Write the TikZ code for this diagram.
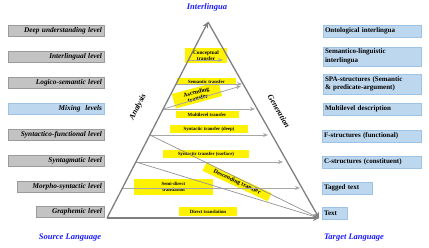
\documentclass[tikz,border=0pt]{standalone}
\usepackage{fontspec}
\setmainfont{Liberation Serif}
\usetikzlibrary{arrows.meta}
\definecolor{lgray}{HTML}{C3C3C3}
\definecolor{lgrayd}{HTML}{9A9A9A}
\definecolor{lblue}{HTML}{BDD7EE}
\definecolor{lblued}{HTML}{9DC3E6}
\definecolor{ttl}{HTML}{1A1AFF}
\definecolor{edgec}{HTML}{7F7F7F}
\definecolor{arrc}{HTML}{A6A6A6}
\begin{document}
\begin{tikzpicture}[x=1pt,y=-1pt,
  lbox/.style={draw=lgrayd, fill=lgray, line width=0.6pt, minimum height=11pt, inner xsep=2pt, inner ysep=0pt, align=right,
    font=\fontsize{7.3}{8}\selectfont\bfseries\itshape},
  rbox/.style={draw=lblued, fill=lblue, line width=0.6pt, inner xsep=2pt, inner ysep=1pt, align=left,
    font=\fontsize{7}{8.5}\selectfont\bfseries},
  ybox/.style={fill=yellow, inner sep=0pt, align=center, font=\fontsize{4.8}{5.6}\selectfont\bfseries},
  ybig/.style={font=\fontsize{6}{6.4}\selectfont\bfseries},
  ttlbl/.style={text=ttl, font=\fontsize{8.5}{10}\selectfont\bfseries\itshape},
  sidelbl/.style={font=\fontsize{8}{9}\selectfont\bfseries\itshape},
  edge/.style={draw=edgec, line width=1.3pt, -{Stealth[length=6pt,width=6pt]}},
  harr/.style={draw=arrc, line width=0.8pt, -{Stealth[length=5pt,width=4pt]}},
  dline/.style={draw=edgec!85, line width=0.7pt}
]
\useasboundingbox (0,0) rectangle (429,247);

% title labels
\node[ttlbl] (tI) at (207,7) {Interlingua};
\node[ttlbl] (tS) at (70,238) {Source Language};
\node[ttlbl] (tT) at (354,238) {Target Language};

% left boxes
\node[lbox, text width=92pt] (l1) at (56,31) {Deep understanding level};
\node[lbox, text width=92pt] (l2) at (56,57) {Interlingual level};
\node[lbox, text width=92pt] (l3) at (56,83) {Logico-semantic level};
\node[lbox, text width=92pt, fill=lblue, draw=lblued] (l4) at (56,109) {Mixing~~levels};
\node[lbox, text width=92pt] (l5) at (56,135) {Syntactico-functional level};
\node[lbox, text width=92pt] (l6) at (56,161) {Syntagmatic level};
\node[lbox, text width=83pt] (l7) at (60.5,187) {Morpho-syntactic level};
\node[lbox, text width=64pt] (l8) at (70,212) {Graphemic level};

% right boxes
\node[rbox, text width=94pt, minimum height=12pt] (r1) at (372,31) {Ontological interlingua};
\node[rbox, text width=94pt, minimum height=19pt] (r2) at (372,56.5) {Semantico-linguistic\\interlingua};
\node[rbox, text width=94pt, minimum height=20pt] (r3) at (372,84) {SPA-structures (Semantic\\\& predicate-argument)};
\node[rbox, text width=94pt, minimum height=12pt] (r4) at (372,109) {Multilevel description};
\node[rbox, text width=95pt, minimum height=12pt] (r5) at (371.5,136) {F-structures (functional)};
\node[rbox, text width=95pt, minimum height=12pt] (r6) at (371.5,162) {C-structures (constituent)};
\node[rbox, text width=46pt, minimum height=12pt] (r7) at (347,188) {Tagged text};
\node[rbox, text width=21pt, minimum height=12pt] (r8) at (334.5,213) {Text};

% yellow labels
\node[ybox, font=\fontsize{5.3}{6}\selectfont\bfseries, minimum width=42pt, minimum height=15pt] (y1) at (206,55.5) {Conceptual\\transfer};
\node[ybox, ybig, minimum width=48pt, minimum height=15pt, rotate=15] (y3) at (197,95) {Ascending\\transfer};
\node[ybox, minimum width=59pt, minimum height=7pt] (y2) at (206.5,81.5) {Semantic transfer};
\node[ybox, minimum width=63pt, minimum height=7pt] (y4) at (207,114.5) {Multilevel transfer};
\node[ybox, minimum width=78pt, minimum height=8pt] (y5) at (209,129) {Syntactic transfer (deep)};
\node[ybox, minimum width=86pt, minimum height=8pt] (y6) at (206,154) {Syntactic transfer (surface)};
\node[ybox, minimum width=79pt, minimum height=16pt] (y7) at (173.5,187) {Semi-direct\\translation};
\node[ybox, minimum width=58pt, minimum height=9pt] (y8) at (208,211.5) {Direct translation};
\node[ybox, ybig, minimum width=72pt, minimum height=9pt, rotate=-25] (y9) at (237,182) {Descending transfer};

% triangle
\coordinate (BL) at (107,218);
\coordinate (AP) at (208,22);
\coordinate (BR) at (319,218);

% level points on the left edge
\coordinate (a60) at (188.8,60);
\coordinate (a84) at (176.4,84);
\coordinate (a109) at (163.5,109);
\coordinate (a135) at (150,135);
\coordinate (a162) at (136,162);
\coordinate (a188) at (122.5,188);
% tips
\coordinate (b60) at (223,60);
\coordinate (b84) at (242,84);
\coordinate (b86) at (241,86);
\coordinate (b109) at (255,109);
\coordinate (b135) at (268,135);
\coordinate (b162) at (283,162);
\coordinate (b188) at (300,188);

\draw[harr] (a60) -- (b60);
\draw[harr] (a84) -- (b84);
\draw[harr] (a109) -- (b86);
\draw[harr] (a109) -- (b109);
\draw[harr] (a135) -- (b135);
\draw[harr] (a162) -- (b162);
\draw[harr] (a188) -- (b188);
\draw[dline] (a135) -- (BR);
\draw[dline] (a162) -- (BR);
\draw[edge] (BL) -- (BR);
\draw[edge] (BL) -- (AP);
\draw[edge] (AP) -- (BR);

% side labels
\node[sidelbl, rotate=62.6] (an) at (138,107) {Analysis};
\node[sidelbl, rotate=-60.4] (gn) at (279,111) {Generation};
\end{tikzpicture}
\end{document}
